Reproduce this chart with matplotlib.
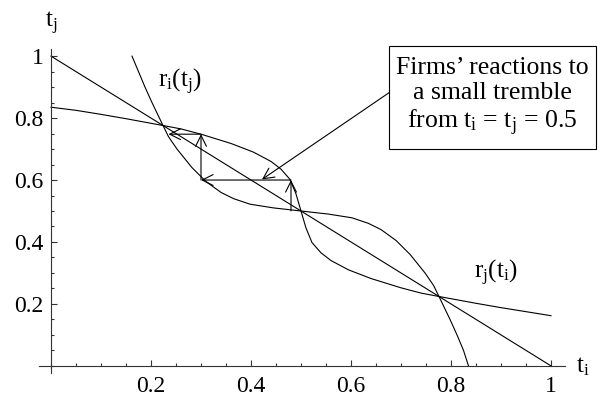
"""Reaction curves r_i(t_j), r_j(t_i) with a cobweb from a small tremble."""
import numpy as np
import matplotlib
matplotlib.use("Agg")
import matplotlib.pyplot as plt
from matplotlib.patches import Rectangle
from matplotlib.ticker import MultipleLocator, FixedLocator, FuncFormatter

plt.rcParams.update({
    "font.family":        "Liberation Serif",
    "mathtext.fontset":   "custom",
    "mathtext.rm":        "Liberation Serif",
    "mathtext.it":        "Liberation Serif",
    "mathtext.default":   "rm",
    "font.size":          17,
})

# ----------------------------------------------------------------
# data
# ----------------------------------------------------------------
# r_j(t_i): t_j as a function of t_i
rj_ti = [0.00, 0.05, 0.10, 0.15, 0.224, 0.26, 0.30, 0.36, 0.405, 0.44,
         0.46, 0.478, 0.49, 0.50, 0.51, 0.522, 0.54, 0.56, 0.595, 0.64,
         0.70, 0.74, 0.776, 0.85, 0.90, 0.95, 1.00]
rj_tj = [0.835, 0.825, 0.812, 0.798, 0.776, 0.765, 0.748, 0.718, 0.690, 0.660,
         0.635, 0.602, 0.555, 0.500, 0.445, 0.398, 0.365, 0.340, 0.310, 0.282,
         0.252, 0.235, 0.224, 0.202, 0.188, 0.175, 0.162]

# r_i(t_j): t_i as a function of t_j
ri_tj = [1.00, 0.95, 0.90, 0.85, 0.776, 0.74, 0.70, 0.64, 0.595, 0.56,
         0.54, 0.522, 0.51, 0.50, 0.49, 0.478, 0.46, 0.44, 0.405, 0.36,
         0.30, 0.26, 0.224, 0.15, 0.10, 0.05, 0.00]
ri_ti = [0.162, 0.175, 0.188, 0.202, 0.224, 0.235, 0.252, 0.282, 0.310, 0.340,
         0.365, 0.398, 0.445, 0.500, 0.555, 0.602, 0.635, 0.660, 0.690, 0.718,
         0.748, 0.765, 0.776, 0.798, 0.812, 0.825, 0.835]

# symmetric line t_i + t_j = 1
diag_ti = [0.0, 1.0]
diag_tj = [1.0, 0.0]

# cobweb of reactions after the tremble
web_ti = [0.48, 0.48, 0.30, 0.30, 0.235]
web_tj = [0.50, 0.60, 0.60, 0.748, 0.748]

x_major = [0.2, 0.4, 0.6, 0.8, 1.0]
y_major = [0.2, 0.4, 0.6, 0.8, 1.0]

box_text = "Firms\u2019 reactions to\na small tremble\nfrom $t_i$ = $t_j$ = 0.5"
note_tip = (0.422, 0.602)
note_tail = (0.678, 0.884)

# ----------------------------------------------------------------
# figure
# ----------------------------------------------------------------
fig = plt.figure(figsize=(6.01, 3.98), dpi=100)
ax = fig.add_axes([39 / 601, 25 / 398, 526 / 601, 324 / 398])

line_kw = dict(color="black", lw=0.8)
ax.plot(rj_ti, rj_tj, **line_kw)
ax.plot(ri_ti, ri_tj, **line_kw)
ax.plot(diag_ti, diag_tj, **line_kw)

arrow_kw = dict(arrowstyle="->,head_length=0.6,head_width=0.3",
                color="black", lw=0.8, mutation_scale=13,
                shrinkA=0, shrinkB=0)
for k in range(len(web_ti) - 1):
    ax.annotate("", xy=(web_ti[k + 1], web_tj[k + 1]),
                xytext=(web_ti[k], web_tj[k]), arrowprops=arrow_kw)

ax.annotate("", xy=note_tip, xytext=note_tail, arrowprops=arrow_kw,
            annotation_clip=False)

# axes through the origin, Mathematica style
ax.set_xlim(-0.024, 1.028)
ax.set_ylim(-0.023, 1.023)
for side in ("top", "right"):
    ax.spines[side].set_visible(False)
ax.spines["left"].set_position(("data", 0))
ax.spines["bottom"].set_position(("data", 0))
for side in ("left", "bottom"):
    ax.spines[side].set_color("#333333")
    ax.spines[side].set_linewidth(0.8)

ax.xaxis.set_major_locator(FixedLocator(x_major))
ax.yaxis.set_major_locator(FixedLocator(y_major))
ax.xaxis.set_minor_locator(MultipleLocator(0.05))
ax.yaxis.set_minor_locator(MultipleLocator(0.05))
fmt = FuncFormatter(lambda v, p: "1" if abs(v - 1) < 1e-9 else f"{v:g}")
ax.xaxis.set_major_formatter(fmt)
ax.yaxis.set_major_formatter(fmt)
ax.tick_params(which="both", direction="in", color="#333333", width=0.8)
ax.tick_params(which="major", length=4.5, labelsize=17)
ax.tick_params(which="minor", length=2.5)
ax.tick_params(axis="x", which="major", pad=7)
ax.tick_params(axis="y", which="major", pad=5.5)
ax.set_facecolor("white")

# axis names
fig.text(51 / 601, 1 - 23 / 398, "$t_j$", ha="center", va="center", fontsize=18)
fig.text(583 / 601, 1 - 367 / 398, "$t_i$", ha="center", va="center", fontsize=18)

# curve labels
fig.text(180 / 601, 1 - 82 / 398, "$r_i(t_j)$", ha="center", va="center",
         fontsize=18)
fig.text(496 / 601, 1 - 273 / 398, "$r_j(t_i)$", ha="center", va="center",
         fontsize=18)

# note box
fig.patches.append(Rectangle((389 / 601, 1 - 149 / 398), 207 / 601, 103 / 398,
                             transform=fig.transFigure, facecolor="white",
                             edgecolor="black", lw=0.8))
fig.text(492.5 / 601, 1 - 97.5 / 398, box_text, ha="center", va="center",
         fontsize=18.5, linespacing=1.2)

fig.savefig("out.png", dpi=100, facecolor="white")
